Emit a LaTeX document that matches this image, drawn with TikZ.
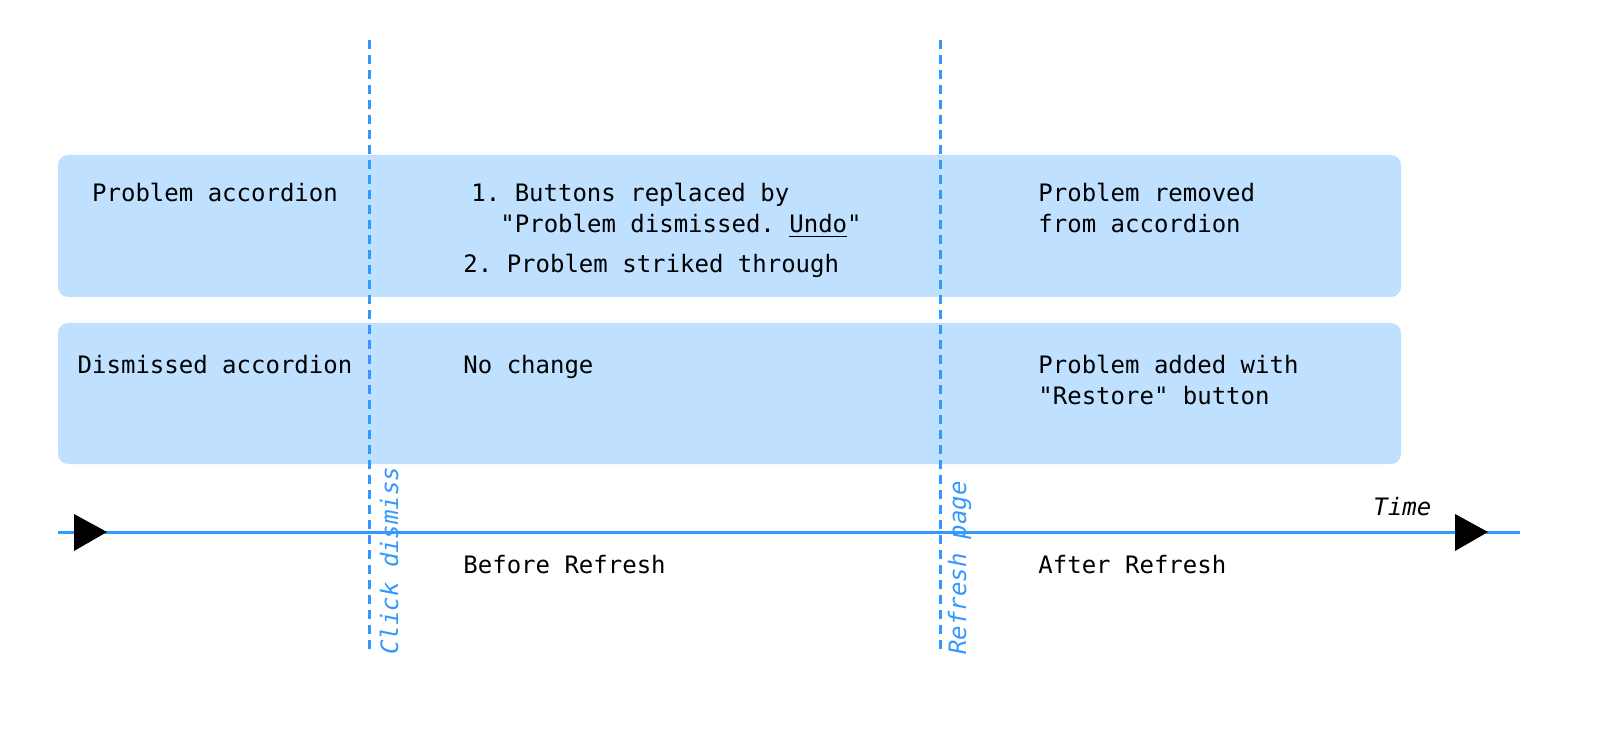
\documentclass[tikz,border=0pt]{standalone}
\usepackage{fontspec}
\setmonofont{DejaVu Sans Mono}
\definecolor{boxblue}{RGB}{191,224,255}
\definecolor{lineblue}{RGB}{51,153,255}

\begin{document}
\begin{tikzpicture}[x=0.5pt,y=-0.5pt,
  font=\ttfamily\fontsize{12}{15.5}\selectfont,
  lbl/.style={anchor=base west,inner sep=0pt},
  evlabel/.style={anchor=base west,inner sep=0pt,rotate=90,text=lineblue,font=\ttfamily\itshape\fontsize{12}{15.5}\selectfont},
  band/.style={fill=boxblue,rounded corners=5pt},
  cut/.style={draw=lineblue,line width=1.5pt,dash pattern=on 4.5pt off 3pt}]
\useasboundingbox (0,0) rectangle (1620,732);
% the two accordions
\fill[band] (58,155) rectangle (1401,297);
\fill[band] (58,323) rectangle (1401,464);
% time axis
\coordinate (t0) at (58,532);
\coordinate (t1) at (1520,532);
\draw[lineblue,line width=1.5pt] (t0) -- (t1);
\fill (74,514) -- (74,551) -- (107,532) -- cycle;
\fill (1455,514) -- (1455,551) -- (1488,532) -- cycle;
\node[lbl,font=\ttfamily\itshape\fontsize{12}{15.5}\selectfont] (time) at (1373,515) {Time};
% events
\coordinate (c0) at (369,40);
\coordinate (c1) at (369,655);
\draw[cut] (c0) -- (c1);
\coordinate (r0) at (940,40);
\coordinate (r1) at (940,655);
\draw[cut] (r0) -- (r1);
\node[evlabel] (click) at (398,655) {Click dismiss};
\node[evlabel] (refresh) at (966,655) {Refresh page};
% row labels
\node[anchor=base,inner sep=0pt] (prob) at (215,202) {Problem accordion};
\node[anchor=base,inner sep=0pt] (dism) at (215,373) {Dismissed accordion};
% before refresh
\node[lbl] (b1) at (471,202) {1. Buttons replaced by};
\node[lbl] (b2) at (500,233) {"Problem dismissed. \underline{Undo}"};
\node[lbl] (b3) at (463,273) {2. Problem striked through};
\node[lbl] (nochg) at (463,373) {No change};
\node[lbl] (before) at (463,573) {Before Refresh};
% after refresh
\node[lbl] (a1) at (1038,202) {Problem removed};
\node[lbl] (a2) at (1038,233) {from accordion};
\node[lbl] (a3) at (1038,373) {Problem added with};
\node[lbl] (a4) at (1038,404) {"Restore" button};
\node[lbl] (after) at (1038,573) {After Refresh};
\end{tikzpicture}
\end{document}
